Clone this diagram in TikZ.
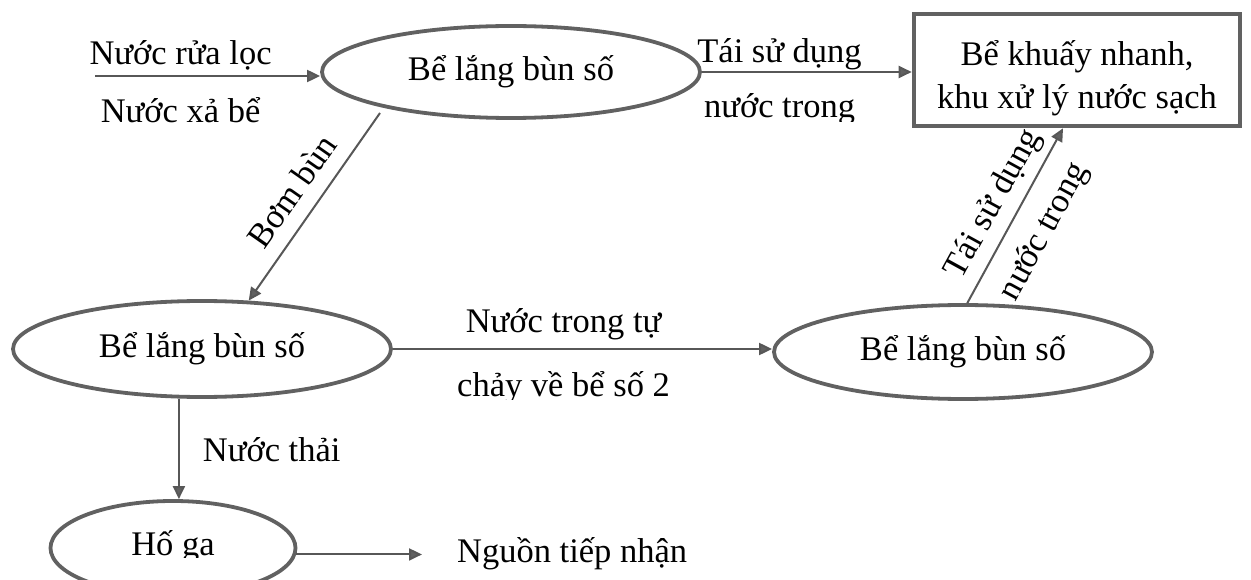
\documentclass[tikz,border=0pt]{standalone}
\usepackage{fontspec}
\XeTeXinputnormalization=1
\setmainfont{Liberation Serif}
\usetikzlibrary{shapes.geometric,arrows.meta,calc}

\begin{document}
\begin{tikzpicture}[x=1pt,y=-1pt,
  every node/.style={font=\fontsize{34.5}{43}\selectfont},
  tank/.style={ellipse, draw=black!62, line width=3.8pt, inner sep=0pt},
  unitbox/.style={rectangle, draw=black!62, line width=4.6pt, inner sep=0pt,
    align=center, minimum width=326pt, minimum height=112pt},
  flow/.style={draw=black!66, line width=2pt,
    -{Triangle[length=13pt,width=12pt,fill=black!62]}},
  lbl/.style={inner sep=0pt, text=black},
]
\useasboundingbox (0,0) rectangle (1251,580);
\clip (0,0) rectangle (1251,580);

% tanks and the treatment unit
\node[tank, minimum width=378pt, minimum height=92pt] (e1) at (511,72) {Bể lắng bùn số};
\node[tank, minimum width=378pt, minimum height=96pt] (e2) at (202,349) {Bể lắng bùn số};
\node[tank, minimum width=378pt, minimum height=94pt] (e3) at (963,352) {Bể lắng bùn số};
\node[tank, minimum width=245pt, minimum height=94pt] (hoga) at (173,548) {};
\node[unitbox] (box) at (1077,70) {\rule{0pt}{42pt}Bể khuấy nhanh,\\khu xử lý nước sạch};

% inflow to the first tank
\coordinate (src) at (95,76);
\draw[flow] (src) -- coordinate[pos=.38] (m0) (src -| e1.west);
\node[lbl, anchor=base] (lin1) at ([yshift=11pt]m0) {Nước rửa lọc};
\node[lbl, anchor=base] (lin2) at ([yshift=-47pt]m0) {Nước xả bể};

% clear water reused in the treatment unit
\draw[flow] (e1.east) -- coordinate[pos=.37] (m1) (e1.east -| box.west);
\node[lbl, anchor=base] (reuse1) at ([yshift=9pt]m1) {Tái sử dụng};
\begin{scope}
  \clip ([shift={(-120,-60)}]m1) rectangle ([shift={(120,50)}]m1);
  \node[lbl, anchor=base] (reuse2) at ([yshift=-46pt]m1) {nước trong};
\end{scope}

% sludge pumping
\draw[flow] ([shift={(-131,41)}]e1.center) --
  node[lbl, sloped, anchor=base, yshift=16pt] (pump) {Bơm bùn} (e2.46);

% gravity flow to tank 2
\draw[flow] (e2.east) -- coordinate[pos=.45] (m2) (e2.east -| e3.west);
\node[lbl, anchor=base] (grav1) at ([yshift=17pt]m2) {Nước trong tự};
\begin{scope}
  \clip ([shift={(-150,-60)}]m2) rectangle ([shift={(150,50)}]m2);
  \node[lbl, anchor=base] (grav2) at ([yshift=-47pt]m2) {chảy về bể số 2};
\end{scope}

% reuse from tank 2
\draw[flow] (e3.85) --
  node[lbl, sloped, anchor=base, yshift=16pt] (reuse3) {Tái sử dụng}
  node[lbl, sloped, anchor=base, yshift=-42pt] (reuse4) {nước trong}
  ([xshift=-14pt]box.south);

% waste water to the manhole
\draw[flow] (e2.245) --
  node[lbl, pos=.63, anchor=base west, xshift=23pt] (waste) {Nước thải}
  (e2.245 |- hoga.north);
\begin{scope}
  \clip ([shift={(-70,-40)}]hoga.center) rectangle ([shift={(70,9)}]hoga.center);
  \node[lbl, anchor=base] (hogat) at ([yshift=-7pt]hoga.center) {Hố ga};
\end{scope}

% discharge
\node[lbl, anchor=base west] (dest) at (457,562) {Nguồn tiếp nhận};
\draw[flow, shorten >=35pt] (hoga.-3) -- (hoga.-3 -| dest.west);
\end{tikzpicture}
\end{document}
